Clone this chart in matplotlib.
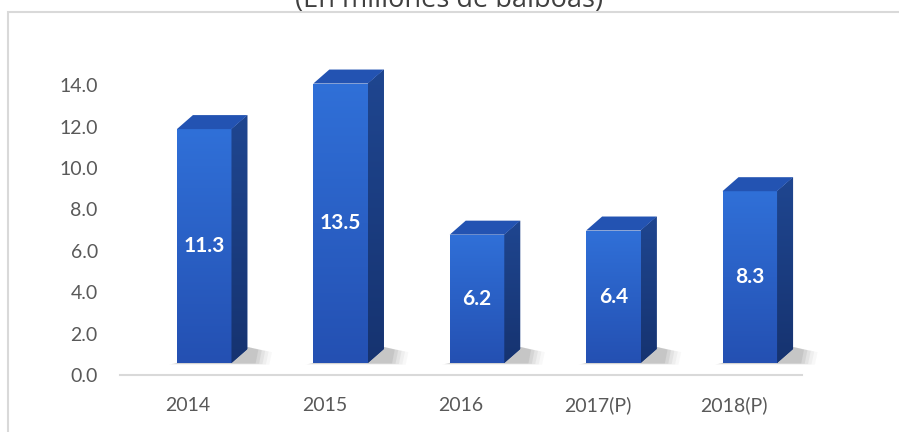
import numpy as np
import matplotlib
matplotlib.use("Agg")
import matplotlib.pyplot as plt
from matplotlib.patches import Polygon, Rectangle
from matplotlib.transforms import ScaledTranslation
from matplotlib.colors import LinearSegmentedColormap

categories = ["2014", "2015", "2016", "2017(P)", "2018(P)"]
values = [11.3, 13.5, 6.2, 6.4, 8.3]
value_labels = ["11.3", "13.5", "6.2", "6.4", "8.3"]
yticks = [0, 2, 4, 6, 8, 10, 12, 14]
title = "(En millones de balboas)"

W, H, DPI = 899, 432, 100
fig = plt.figure(figsize=(W / DPI, H / DPI), dpi=DPI)
fig.patch.set_facecolor("white")

# chart border
fig.patches.append(Rectangle((8 / W, -0.05), 1.1, 1 - 12 / H + 0.05,
                             transform=fig.transFigure, fill=False,
                             edgecolor="#d9d9d9", lw=1.5))

fig.text(0.5, 1 - 7 / H, title, ha="center", va="baseline",
         fontsize=19.5, color="#404040", family="Open Sans")

ax_l, ax_r, ax_b = 120, 802, 375
px_per_unit = 20.7
ymax = 16
ax = fig.add_axes([ax_l / W, (H - ax_b) / H, (ax_r - ax_l) / W,
                   ymax * px_per_unit / H])
ax.set_xlim(-0.5, len(categories) - 0.5)
ax.set_ylim(0, ymax)
for s in ["left", "right", "top"]:
    ax.spines[s].set_visible(False)
ax.spines["bottom"].set_color("#d9d9d9")
ax.spines["bottom"].set_linewidth(1.5)
ax.set_yticks(yticks)
ax.set_yticklabels([f"{t:.1f}" for t in yticks], family="Lato",
                   fontsize=14, color="#595959")
ax.set_xticks(range(len(categories)))
ax.set_xticklabels(categories, family="Lato", fontsize=14, color="#595959")
ax.tick_params(axis="y", length=0, pad=16)
ax.tick_params(axis="x", length=0, pad=26)
for t in ax.xaxis.get_major_ticks():
    t.label1.set_verticalalignment("baseline")
ax.set_facecolor("none")

# 3D pseudo-bar geometry (style)
x_unit_px = (ax_r - ax_l) / len(categories)
off = ax.transData + ScaledTranslation(16 / DPI, 12 / DPI, fig.dpi_scale_trans)
bw = 0.40
ddx = 16 / x_unit_px
ddy = 14 / px_per_unit

grad = np.linspace(0, 1, 256).reshape(-1, 1)
front_cmap = LinearSegmentedColormap.from_list("f", ["#2450b2", "#3070d8"])
side_cmap = LinearSegmentedColormap.from_list("s", ["#163370", "#1f4690"])

for i, v in enumerate(values):
    x0, x1 = i - bw / 2, i + bw / 2
    # soft shadow
    for k, a in enumerate([0.04, 0.06, 0.08, 0.10, 0.12]):
        g = (5 - k) * 0.03
        sh = Polygon([(x0 - 0.06 + k * 0.012, -0.08 + k * 0.015),
                      (x1 + ddx + 0.16 - k * 0.025, -0.08 + k * 0.015),
                      (x1 + ddx + 0.16 - k * 0.025 + 0.02, ddy - g),
                      (x1 + ddx, ddy + 0.1)],
                     closed=True, facecolor="#606060", edgecolor="none",
                     alpha=a, transform=off, zorder=1, clip_on=False)
        ax.add_patch(sh)
    # front face with gradient
    bars = ax.bar(i, v, width=bw, bottom=0, color="#2b62cc", transform=off,
                  zorder=3, clip_on=False)
    patch = bars[0]
    im = ax.imshow(grad, cmap=front_cmap, origin="lower", aspect="auto",
                   extent=(x0, x1, 0, v), zorder=3.1, transform=off)
    im.set_clip_path(patch)
    # side face
    side = Polygon([(x1, 0), (x1 + ddx, ddy), (x1 + ddx, v + ddy), (x1, v)],
                   closed=True, facecolor="#1b3e85", edgecolor="none",
                   transform=off, zorder=3, clip_on=False)
    ax.add_patch(side)
    im2 = ax.imshow(grad, cmap=side_cmap, origin="lower", aspect="auto",
                    extent=(x1, x1 + ddx, 0, v + ddy), zorder=3.1, transform=off)
    im2.set_clip_path(side)
    # top face
    top = Polygon([(x0, v), (x1, v), (x1 + ddx, v + ddy), (x0 + ddx, v + ddy)],
                  closed=True, facecolor="#2353b2", edgecolor="none",
                  transform=off, zorder=3.2, clip_on=False)
    ax.add_patch(top)
    # label
    ax.text(i, v / 2, value_labels[i], ha="center", va="center",
            color="white", fontsize=15, fontweight="bold", family="Lato",
            transform=off, zorder=5)

ax.set_xlim(-0.5, len(categories) - 0.5)
ax.set_ylim(0, ymax)

fig.savefig("out.png", dpi=DPI)
